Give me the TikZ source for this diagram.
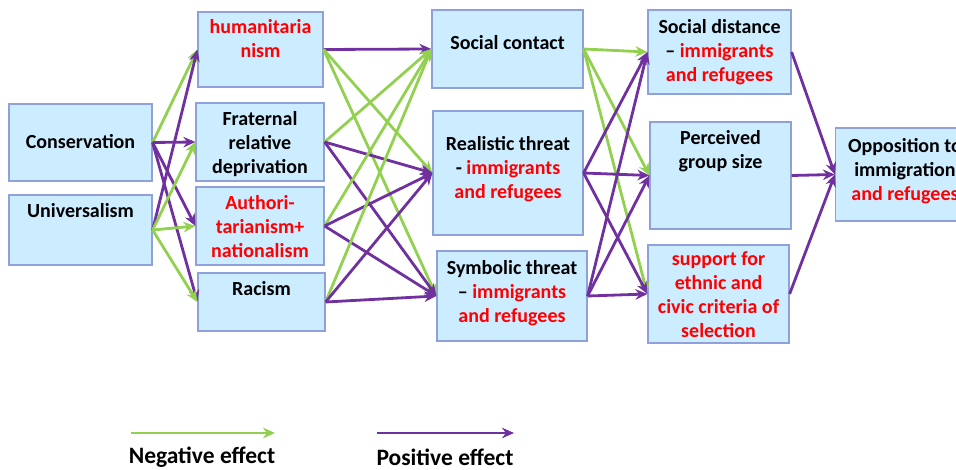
\documentclass[tikz,border=0pt]{standalone}
\usepackage{fontspec}
\setmainfont{Carlito}
\usepackage{tikz}
\usepackage{xcolor}
\usetikzlibrary{arrows.meta}
\definecolor{boxfill}{RGB}{204,236,255}
\definecolor{boxline}{RGB}{143,160,220}
\definecolor{neggreen}{RGB}{146,208,80}
\definecolor{pospurple}{RGB}{112,48,160}
\newcommand{\rd}[1]{\textcolor{red}{#1}}
\tikzstyle{box} = [rectangle, draw=boxline, fill=boxfill, line width=1.2pt, inner sep=0pt, align=center, text height=15pt, font=\fontsize{20}{24}\selectfont\bfseries]
\tikzstyle{negeff} = [draw=neggreen]
\tikzstyle{poseff} = [draw=pospurple]
\tikzstyle{legend} = [font=\fontsize{23.5}{28}\selectfont\bfseries]

\begin{document}
\begin{tikzpicture}[->,>={Stealth[length=12pt,width=10.5pt]},x=1pt,y=-1pt,line width=2.8pt]
  \useasboundingbox (0,0) rectangle (956,470);
  \clip (0,0) rectangle (956,470);
  % values
  \node[box, minimum width=143, minimum height=77, text depth=3pt] (Cons) at (80.5,142.5) {Conservation};
  \node[box, minimum width=143, minimum height=70, text depth=40pt] (Univ) at (80.5,230) {Universalism};
  % attitudes
  \node[box, minimum width=125, minimum height=75, text height=39pt, text depth=23pt, text=red] (Hum) at (260.5,49.5) {humanitaria\\nism};
  \node[box, minimum width=128, minimum height=78, text height=63pt, text depth=0pt] (Frat) at (260,142) {Fraternal\\relative\\deprivation};
  \node[box, minimum width=128, minimum height=78, text height=63pt, text depth=0pt, text=red] (Auth) at (260,226) {Authori-\\tarianism+\\nationalism};
  \node[box, minimum width=127, minimum height=58, text depth=28pt] (Rac) at (261.5,302) {Racism};
  % contact and threat
  \node[box, minimum width=151, minimum height=78, text depth=14pt] (S_contact) at (507.5,49) {Social contact};
  \node[box, minimum width=150, minimum height=124, text height=63pt, text depth=12pt] (R_threat) at (508,173) {Realistic threat\\- \rd{immigrants}\\\rd{and refugees}};
  \node[box, minimum width=150, minimum height=90, text height=63pt, text depth=10pt] (S_threat) at (512,296) {Symbolic threat\\-- \rd{immigrants}\\\rd{and refugees}};
  % mediators
  \node[box, minimum width=143, minimum height=84, text height=63pt, text depth=4pt] (S_dist) at (719.5,52) {Social distance\\-- \rd{immigrants}\\\rd{and refugees}};
  \node[box, minimum width=141, minimum height=107, text height=39pt, text depth=53pt] (G_size) at (720.5,175.5) {Perceived\\group size};
  \node[box, minimum width=141, minimum height=98, text height=87pt, text depth=0pt, text=red] (Crit) at (718.5,294) {support for\\ethnic and\\civic criteria of\\selection};
  % outcome
  \node[box, minimum width=139, minimum height=93, text height=63pt, text depth=11pt] (Opp) at (905,174.5) {Opposition to\\immigration\\\rd{and refugees}};

  \path (Cons.east) edge[negeff] node {} (Hum.west);
  \path (Cons.east) edge[poseff] node {} (Frat.west);
  \path (Cons.east) edge[poseff] node {} (Auth.west);
  \path (Cons.east) edge[poseff] node {} (Rac.west);
  \path (Univ.east) edge[poseff] node {} (Hum.west);
  \path (Univ.east) edge[negeff] node {} (Frat.west);
  \path (Univ.east) edge[negeff] node {} (Auth.west);
  \path (Univ.east) edge[negeff] node {} (Rac.west);

  \path (Hum.east) edge[poseff] node {} (S_contact.west);
  \path (Hum.east) edge[negeff] node {} (R_threat.west);
  \path (Hum.east) edge[negeff] node {} (S_threat.west);
  \path (Frat.east) edge[negeff] node {} (S_contact.west);
  \path (Frat.east) edge[poseff] node {} (R_threat.west);
  \path (Frat.east) edge[poseff] node {} (S_threat.west);
  \path (Auth.east) edge[negeff] node {} (S_contact.west);
  \path (Auth.east) edge[poseff] node {} (R_threat.west);
  \path (Auth.east) edge[poseff] node {} (S_threat.west);
  \path (Rac.east) edge[negeff] node {} (S_contact.west);
  \path (Rac.east) edge[poseff] node {} (R_threat.west);
  \path (Rac.east) edge[poseff] node {} (S_threat.west);

  \path (S_contact.east) edge[negeff] node {} (S_dist.west);
  \path (S_contact.east) edge[negeff] node {} (G_size.west);
  \path (S_contact.east) edge[negeff] node {} (Crit.west);
  \path (R_threat.east) edge[poseff] node {} (S_dist.west);
  \path (R_threat.east) edge[poseff] node {} (G_size.west);
  \path (R_threat.east) edge[poseff] node {} (Crit.west);
  \path (S_threat.east) edge[poseff] node {} (S_dist.west);
  \path (S_threat.east) edge[poseff] node {} (G_size.west);
  \path (S_threat.east) edge[poseff] node {} (Crit.west);

  \path (S_dist.east) edge[poseff] node {} (Opp.west);
  \path (G_size.east) edge[poseff] node {} (Opp.west);
  \path (Crit.east) edge[poseff] node {} (Opp.west);

  % legend
  \coordinate (Neg_a) at (131,433);
  \coordinate (Neg_b) at (275,433);
  \coordinate (Pos_a) at (377,433);
  \coordinate (Pos_b) at (514,433);
  \path (Neg_a) edge[negeff] node {} (Neg_b);
  \path (Pos_a) edge[poseff] node {} (Pos_b);
  \node[legend] (Neg_text) at (202,457) {Negative effect};
  \node[legend] (Pos_text) at (445,457) {Positive effect};
\end{tikzpicture}
\end{document}
